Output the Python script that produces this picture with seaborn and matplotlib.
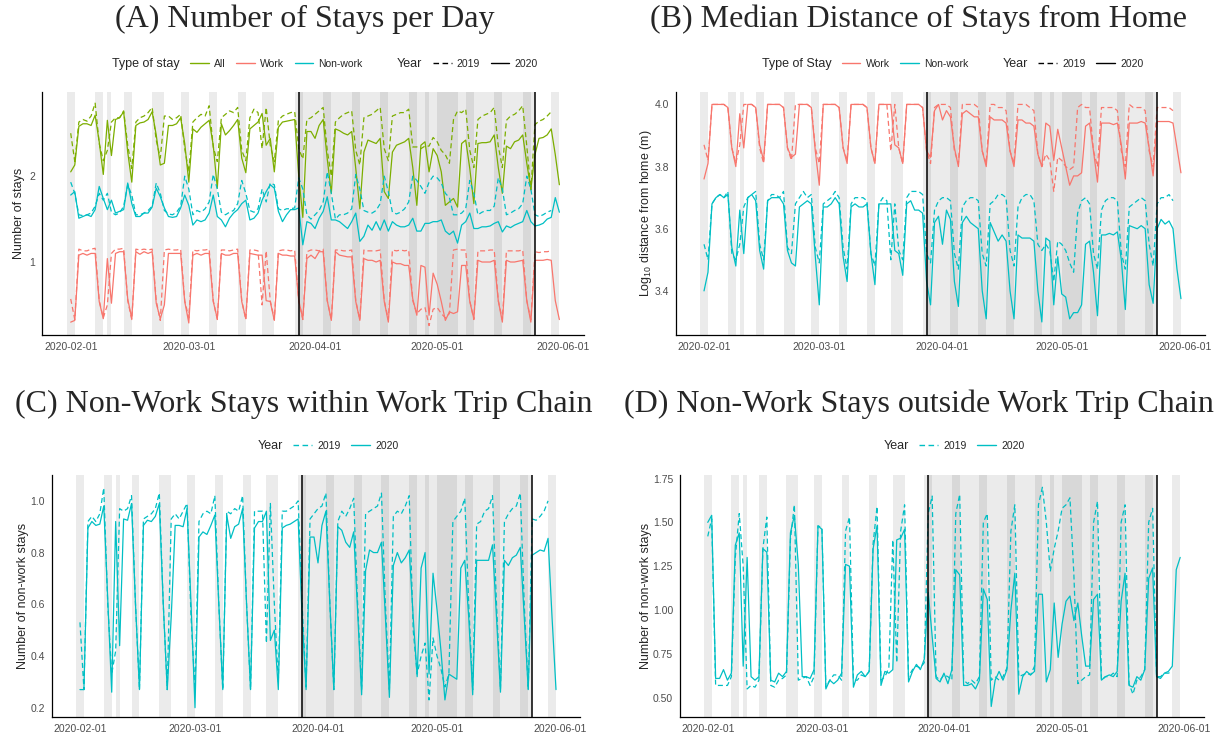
import pandas as pd
import seaborn as sns
import matplotlib.pyplot as plt
import matplotlib.dates as mdates
from matplotlib.lines import Line2D

# 2020 calendar (2019 series are aligned by weekday, so they end a couple of days earlier)
dates = pd.date_range('2020-02-01', '2020-05-31', freq='D')
holidays = pd.to_datetime(['2020-02-11', '2020-02-24', '2020-03-20', '2020-04-29',
                           '2020-05-04', '2020-05-05', '2020-05-06'])
restriction_start = pd.Timestamp('2020-03-28')
restriction_end = pd.Timestamp('2020-05-25')

# (A) number of stays per day, one row per week (Sat..Fri)
all_2020 = [2.05, 2.13, 2.58, 2.61, 2.61, 2.59, 2.71,
            2.40, 2.02, 2.65, 2.24, 2.66, 2.68, 2.75,
            2.28, 1.93, 2.59, 2.62, 2.63, 2.66, 2.75,
            2.48, 2.13, 2.15, 2.59, 2.59, 2.61, 2.68,
            2.38, 1.93, 2.55, 2.51, 2.57, 2.61, 2.65,
            2.36, 1.86, 2.61, 2.48, 2.53, 2.59, 2.66,
            2.21, 2.04, 2.55, 2.59, 2.63, 2.73, 2.36,
            2.44, 2.05, 2.57, 2.63, 2.64, 2.65, 2.66,
            2.00, 1.52, 2.52, 2.52, 2.44, 2.59, 2.66,
            2.20, 1.80, 2.55, 2.53, 2.50, 2.48, 2.52,
            2.09, 1.62, 2.28, 2.42, 2.40, 2.38, 2.44,
            1.82, 1.74, 2.28, 2.36, 2.38, 2.40, 2.44,
            2.10, 1.66, 2.36, 2.40, 2.05, 2.32, 2.24,
            2.05, 1.66, 1.70, 1.74, 1.64, 2.38, 2.42,
            2.09, 1.68, 2.38, 2.39, 2.39, 2.40, 2.48,
            2.10, 1.80, 2.35, 2.32, 2.40, 2.42, 2.48,
            2.15, 1.85, 2.25, 2.44, 2.45, 2.48, 2.55,
            2.25, 1.90]
all_2019 = [2.50, 2.17, 2.63, 2.66, 2.64, 2.70, 2.85,
            2.38, 2.18, 2.30, 2.63, 2.68, 2.68, 2.76,
            2.36, 2.09, 2.63, 2.68, 2.70, 2.74, 2.80,
            2.42, 2.21, 2.70, 2.70, 2.66, 2.68, 2.72,
            2.32, 2.05, 2.63, 2.68, 2.72, 2.70, 2.82,
            2.34, 2.17, 2.68, 2.72, 2.76, 2.74, 2.80,
            2.30, 2.18, 2.68, 2.78, 2.74, 2.32, 2.80,
            2.36, 2.17, 2.65, 2.70, 2.72, 2.74, 2.75,
            2.32, 2.20, 2.66, 2.68, 2.72, 2.76, 2.80,
            2.30, 2.00, 2.63, 2.68, 2.72, 2.74, 2.76,
            2.30, 2.13, 2.68, 2.70, 2.72, 2.76, 2.80,
            2.32, 2.18, 2.70, 2.72, 2.74, 2.74, 2.78,
            2.34, 2.34, 2.32, 2.35, 2.35, 2.45, 2.40,
            2.30, 2.25, 2.15, 2.66, 2.76, 2.74, 2.78,
            2.30, 2.10, 2.66, 2.70, 2.72, 2.74, 2.80,
            2.35, 2.10, 2.65, 2.70, 2.72, 2.76, 2.82,
            2.35, 1.84, 2.60, 2.64, 2.66, 2.70, 2.75]
work_2020 = [0.30, 0.32, 1.08, 1.10, 1.08, 1.10, 1.10,
             0.54, 0.34, 1.04, 0.52, 1.10, 1.12, 1.12,
             0.57, 0.34, 1.12, 1.09, 1.12, 1.10, 1.12,
             0.52, 0.34, 0.50, 1.10, 1.10, 1.10, 1.10,
             0.54, 0.29, 1.08, 1.10, 1.08, 1.10, 1.10,
             0.54, 0.34, 1.10, 1.08, 1.08, 1.10, 1.10,
             0.54, 0.34, 1.10, 1.09, 1.08, 1.08, 0.55,
             0.54, 0.32, 1.10, 1.08, 1.08, 1.07, 1.07,
             0.55, 0.34, 1.04, 1.08, 1.04, 1.12, 1.12,
             0.55, 0.32, 1.12, 1.08, 1.07, 1.06, 1.06,
             0.54, 0.32, 1.04, 1.02, 1.02, 1.00, 1.02,
             0.54, 0.30, 1.00, 0.98, 0.98, 0.96, 0.96,
             0.57, 0.38, 0.96, 0.94, 0.38, 0.87, 0.74,
             0.54, 0.32, 0.42, 0.40, 0.42, 0.96, 0.96,
             0.54, 0.34, 1.02, 1.00, 1.00, 1.00, 1.02,
             0.55, 0.30, 1.02, 1.00, 1.00, 1.01, 1.02,
             0.55, 0.30, 1.02, 1.02, 1.02, 1.03, 1.02,
             0.55, 0.33]
work_2019 = [0.57, 0.33, 1.15, 1.13, 1.13, 1.15, 1.16,
             0.55, 0.35, 0.50, 1.10, 1.15, 1.15, 1.16,
             0.55, 0.33, 1.15, 1.14, 1.15, 1.14, 1.15,
             0.55, 0.32, 1.14, 1.15, 1.14, 1.14, 1.15,
             0.55, 0.35, 1.14, 1.13, 1.14, 1.14, 1.15,
             0.55, 0.33, 1.14, 1.14, 1.13, 1.14, 1.15,
             0.55, 0.33, 1.14, 1.14, 1.13, 0.50, 1.13,
             0.55, 0.33, 1.13, 1.14, 1.14, 1.13, 1.14,
             0.55, 0.33, 1.12, 1.14, 1.14, 1.13, 1.15,
             0.55, 0.33, 1.14, 1.14, 1.13, 1.13, 1.14,
             0.55, 0.33, 1.14, 1.13, 1.13, 1.13, 1.14,
             0.55, 0.33, 1.14, 1.13, 1.14, 1.13, 1.14,
             0.55, 0.40, 0.45, 0.47, 0.26, 0.45, 0.47,
             0.40, 0.35, 0.40, 1.14, 1.15, 1.14, 1.14,
             0.55, 0.33, 1.13, 1.13, 1.13, 1.14, 1.14,
             0.55, 0.33, 1.13, 1.13, 1.13, 1.13, 1.14,
             0.55, 0.33, 1.12, 1.11, 1.12, 1.12, 1.13]
nonwork_2020 = [1.78, 1.82, 1.51, 1.53, 1.55, 1.53, 1.61,
                1.88, 1.74, 1.61, 1.72, 1.57, 1.59, 1.61,
                1.92, 1.68, 1.53, 1.53, 1.57, 1.57, 1.64,
                1.86, 1.76, 1.63, 1.53, 1.52, 1.53, 1.63,
                1.78, 1.66, 1.43, 1.49, 1.47, 1.49, 1.57,
                1.78, 1.53, 1.49, 1.41, 1.51, 1.57, 1.61,
                1.68, 1.72, 1.49, 1.51, 1.57, 1.72, 1.82,
                1.90, 1.86, 1.59, 1.47, 1.55, 1.61, 1.61,
                1.63, 1.20, 1.47, 1.45, 1.39, 1.51, 1.59,
                1.76, 1.49, 1.49, 1.47, 1.43, 1.39, 1.47,
                1.57, 1.24, 1.30, 1.43, 1.37, 1.47, 1.37,
                1.49, 1.36, 1.47, 1.43, 1.41, 1.41, 1.43,
                1.51, 1.36, 1.36, 1.45, 1.45, 1.47, 1.47,
                1.49, 1.36, 1.32, 1.36, 1.22, 1.43, 1.47,
                1.57, 1.39, 1.39, 1.41, 1.41, 1.42, 1.45,
                1.47, 1.35, 1.42, 1.40, 1.43, 1.45, 1.47,
                1.60, 1.47, 1.42, 1.43, 1.45, 1.50, 1.52,
                1.75, 1.58]
nonwork_2019 = [1.93, 1.80, 1.55, 1.54, 1.55, 1.57, 1.65,
                1.80, 1.72, 1.80, 1.58, 1.55, 1.57, 1.65,
                1.90, 1.78, 1.55, 1.55, 1.57, 1.60, 1.65,
                1.92, 1.80, 1.60, 1.56, 1.55, 1.58, 1.65,
                2.00, 1.85, 1.55, 1.60, 1.58, 1.62, 1.70,
                2.02, 1.85, 1.58, 1.55, 1.58, 1.60, 1.68,
                1.95, 1.80, 1.60, 1.58, 1.62, 1.85, 1.70,
                1.92, 1.90, 1.62, 1.60, 1.62, 1.62, 1.63,
                1.98, 1.85, 1.55, 1.50, 1.55, 1.60, 1.70,
                2.05, 1.80, 1.50, 1.55, 1.55, 1.57, 1.62,
                2.02, 1.85, 1.60, 1.58, 1.57, 1.60, 1.68,
                2.00, 1.82, 1.58, 1.56, 1.58, 1.62, 1.70,
                2.00, 1.95, 1.88, 1.80, 1.93, 2.00, 1.98,
                1.92, 1.80, 1.75, 1.55, 1.55, 1.57, 1.62,
                1.95, 1.80, 1.55, 1.58, 1.60, 1.60, 1.65,
                1.98, 1.85, 1.55, 1.57, 1.60, 1.62, 1.68,
                2.00, 1.85, 1.55, 1.53, 1.55, 1.58, 1.60]

# (B) log10 median distance from home
dist_work_2020 = [3.76, 3.81, 4.00, 4.00, 4.00, 4.00, 3.99,
                  3.86, 3.80, 3.97, 3.86, 4.00, 4.00, 3.99,
                  3.87, 3.82, 4.00, 4.00, 4.00, 4.00, 3.99,
                  3.86, 3.83, 3.84, 4.00, 4.00, 4.00, 3.99,
                  3.85, 3.74, 4.00, 4.00, 4.00, 4.00, 3.99,
                  3.86, 3.81, 4.00, 4.00, 4.00, 4.00, 3.99,
                  3.86, 3.81, 4.00, 4.00, 4.00, 4.00, 3.87,
                  3.86, 3.81, 4.00, 4.00, 4.00, 4.00, 3.99,
                  3.85, 3.83, 3.98, 4.00, 3.95, 3.98, 3.96,
                  3.86, 3.80, 3.97, 3.98, 3.97, 3.96, 3.96,
                  3.85, 3.80, 3.96, 3.95, 3.95, 3.95, 3.94,
                  3.85, 3.80, 3.95, 3.95, 3.94, 3.94, 3.93,
                  3.84, 3.80, 3.94, 3.93, 3.82, 3.92, 3.86,
                  3.80, 3.74, 3.77, 3.77, 3.78, 3.93, 3.94,
                  3.85, 3.75, 3.94, 3.94, 3.94, 3.935, 3.94,
                  3.87, 3.76, 3.94, 3.94, 3.94, 3.945, 3.94,
                  3.86, 3.77, 3.945, 3.945, 3.945, 3.945, 3.94,
                  3.86, 3.78]
dist_work_2019 = [3.87, 3.82, 4.00, 4.00, 4.00, 4.00, 3.99,
                  3.86, 3.81, 3.87, 4.00, 4.00, 4.00, 3.99,
                  3.86, 3.81, 4.00, 4.00, 4.00, 4.00, 3.99,
                  3.86, 3.82, 4.00, 4.00, 4.00, 4.00, 3.99,
                  3.86, 3.81, 4.00, 4.00, 4.00, 4.00, 3.99,
                  3.86, 3.82, 4.00, 4.00, 4.00, 4.00, 3.99,
                  3.86, 3.81, 4.00, 4.00, 4.00, 3.85, 4.00,
                  3.86, 3.81, 4.00, 4.00, 4.00, 4.00, 3.99,
                  3.85, 3.81, 3.99, 4.00, 4.00, 4.00, 3.99,
                  3.85, 3.81, 4.00, 4.00, 4.00, 4.00, 3.99,
                  3.85, 3.81, 4.00, 4.00, 3.99, 3.99, 3.98,
                  3.85, 3.81, 4.00, 4.00, 4.00, 3.99, 3.98,
                  3.84, 3.80, 3.84, 3.82, 3.72, 3.83, 3.82,
                  3.80, 3.79, 3.80, 3.99, 4.00, 3.99, 3.99,
                  3.85, 3.80, 3.99, 3.99, 3.99, 3.99, 3.98,
                  3.85, 3.80, 4.00, 3.99, 3.99, 3.99, 3.98,
                  3.85, 3.80, 3.99, 3.99, 3.99, 3.99, 3.98]
dist_nonwork_2020 = [3.40, 3.46, 3.68, 3.70, 3.71, 3.70, 3.71,
                     3.54, 3.48, 3.66, 3.52, 3.70, 3.71, 3.69,
                     3.53, 3.47, 3.69, 3.70, 3.70, 3.70, 3.68,
                     3.53, 3.49, 3.48, 3.67, 3.68, 3.69, 3.68,
                     3.51, 3.355, 3.67, 3.67, 3.68, 3.70, 3.68,
                     3.51, 3.43, 3.67, 3.68, 3.67, 3.67, 3.68,
                     3.52, 3.42, 3.68, 3.68, 3.68, 3.68, 3.53,
                     3.52, 3.45, 3.68, 3.69, 3.66, 3.66, 3.65,
                     3.43, 3.355, 3.62, 3.64, 3.55, 3.66, 3.63,
                     3.43, 3.35, 3.62, 3.64, 3.62, 3.61, 3.60,
                     3.40, 3.31, 3.62, 3.59, 3.56, 3.58, 3.56,
                     3.40, 3.31, 3.58, 3.57, 3.57, 3.57, 3.56,
                     3.40, 3.30, 3.57, 3.56, 3.355, 3.51, 3.39,
                     3.38, 3.31, 3.33, 3.33, 3.355, 3.55, 3.56,
                     3.46, 3.32, 3.58, 3.58, 3.585, 3.58, 3.59,
                     3.50, 3.34, 3.61, 3.605, 3.60, 3.61, 3.60,
                     3.42, 3.36, 3.60, 3.63, 3.615, 3.625, 3.60,
                     3.47, 3.375]
dist_nonwork_2019 = [3.55, 3.50, 3.68, 3.70, 3.71, 3.70, 3.72,
                     3.52, 3.50, 3.55, 3.67, 3.70, 3.71, 3.72,
                     3.55, 3.50, 3.69, 3.71, 3.71, 3.70, 3.72,
                     3.54, 3.52, 3.68, 3.70, 3.72, 3.70, 3.71,
                     3.54, 3.49, 3.68, 3.69, 3.70, 3.72, 3.70,
                     3.54, 3.47, 3.68, 3.70, 3.70, 3.70, 3.69,
                     3.52, 3.48, 3.68, 3.70, 3.69, 3.50, 3.68,
                     3.53, 3.50, 3.70, 3.72, 3.72, 3.72, 3.71,
                     3.52, 3.49, 3.66, 3.69, 3.70, 3.70, 3.69,
                     3.52, 3.47, 3.67, 3.69, 3.70, 3.70, 3.69,
                     3.52, 3.48, 3.68, 3.69, 3.71, 3.71, 3.70,
                     3.53, 3.48, 3.67, 3.70, 3.71, 3.71, 3.69,
                     3.55, 3.53, 3.55, 3.53, 3.43, 3.56, 3.55,
                     3.53, 3.49, 3.46, 3.65, 3.69, 3.70, 3.68,
                     3.52, 3.47, 3.66, 3.69, 3.70, 3.70, 3.69,
                     3.52, 3.47, 3.67, 3.68, 3.69, 3.70, 3.69,
                     3.55, 3.48, 3.68, 3.70, 3.70, 3.71, 3.69]

# (C) non-work stays within work trip chain
within_2020 = [0.27, 0.27, 0.895, 0.92, 0.905, 0.91, 0.98,
               0.62, 0.26, 0.92, 0.44, 0.93, 0.925, 0.99,
               0.60, 0.27, 0.905, 0.925, 0.92, 0.94, 0.99,
               0.60, 0.27, 0.55, 0.905, 0.905, 0.90, 0.97,
               0.60, 0.20, 0.86, 0.88, 0.87, 0.905, 0.945,
               0.60, 0.27, 0.945, 0.855, 0.90, 0.91, 0.97,
               0.60, 0.27, 0.895, 0.92, 0.92, 0.96, 0.46,
               0.50, 0.27, 0.895, 0.905, 0.91, 0.92, 0.93,
               0.55, 0.27, 0.86, 0.86, 0.76, 0.905, 0.96,
               0.60, 0.27, 0.90, 0.886, 0.84, 0.82, 0.88,
               0.57, 0.25, 0.73, 0.81, 0.80, 0.80, 0.84,
               0.55, 0.24, 0.75, 0.80, 0.76, 0.78, 0.81,
               0.55, 0.32, 0.74, 0.80, 0.33, 0.72, 0.58,
               0.42, 0.23, 0.33, 0.32, 0.31, 0.74, 0.77,
               0.55, 0.25, 0.77, 0.77, 0.77, 0.77, 0.83,
               0.55, 0.26, 0.77, 0.75, 0.78, 0.79, 0.82,
               0.55, 0.27, 0.79, 0.80, 0.81, 0.805, 0.855,
               0.55, 0.27]
within_2019 = [0.53, 0.27, 0.92, 0.94, 0.92, 0.95, 1.05,
               0.60, 0.33, 0.42, 0.97, 0.96, 0.97, 1.02,
               0.60, 0.27, 0.93, 0.94, 0.95, 0.97, 1.03,
               0.60, 0.27, 0.93, 0.95, 0.93, 0.96, 0.99,
               0.55, 0.27, 0.92, 0.95, 0.96, 0.95, 1.02,
               0.60, 0.27, 0.96, 0.95, 0.97, 0.96, 1.02,
               0.60, 0.27, 0.96, 0.96, 0.96, 0.45, 0.99,
               0.60, 0.30, 0.96, 0.96, 0.97, 0.98, 1.00,
               0.60, 0.28, 0.93, 0.95, 0.97, 0.98, 1.03,
               0.60, 0.27, 0.92, 0.96, 0.94, 0.97, 1.01,
               0.60, 0.27, 0.95, 0.96, 0.97, 0.98, 1.03,
               0.60, 0.27, 0.94, 0.96, 0.95, 0.98, 1.02,
               0.50, 0.33, 0.40, 0.45, 0.23, 0.47, 0.40,
               0.35, 0.28, 0.33, 0.92, 0.94, 0.96, 1.01,
               0.60, 0.27, 0.91, 0.92, 0.96, 0.97, 1.02,
               0.60, 0.27, 0.92, 0.95, 0.97, 0.98, 1.03,
               0.60, 0.27, 0.93, 0.925, 0.94, 0.96, 1.00]

# (D) non-work stays outside work trip chain
outside_2020 = [1.50, 1.54, 0.61, 0.61, 0.66, 0.60, 0.64,
                1.37, 1.44, 0.68, 1.30, 0.62, 0.60, 0.62,
                1.35, 1.33, 0.60, 0.59, 0.64, 0.62, 0.65,
                1.44, 1.54, 1.26, 0.62, 0.62, 0.61, 0.66,
                1.48, 1.46, 0.55, 0.60, 0.58, 0.60, 0.64,
                1.26, 1.25, 0.56, 0.63, 0.65, 0.62, 0.65,
                1.35, 1.48, 0.57, 0.65, 0.64, 0.66, 1.40,
                1.41, 1.46, 0.59, 0.65, 0.69, 0.66, 0.72,
                1.10, 0.85, 0.61, 0.59, 0.64, 0.58, 0.66,
                1.23, 1.20, 0.57, 0.57, 0.58, 0.55, 0.60,
                1.12, 1.06, 0.45, 0.60, 0.65, 0.60, 0.66,
                1.00, 1.21, 0.52, 0.62, 0.65, 0.63, 0.65,
                1.09, 1.09, 0.59, 0.66, 1.04, 0.73, 0.92,
                1.05, 1.08, 0.94, 1.04, 0.85, 0.68, 0.68,
                1.06, 1.09, 0.60, 0.62, 0.63, 0.62, 0.65,
                1.05, 1.21, 0.57, 0.56, 0.62, 0.60, 0.66,
                1.18, 1.24, 0.62, 0.61, 0.64, 0.65, 0.68,
                1.23, 1.30]
outside_2019 = [1.42, 1.52, 0.57, 0.57, 0.57, 0.57, 0.62,
                1.30, 1.55, 1.25, 0.55, 0.57, 0.56, 0.60,
                1.35, 1.53, 0.57, 0.56, 0.60, 0.61, 0.63,
                1.40, 1.60, 0.60, 0.61, 0.62, 0.57, 0.62,
                1.48, 1.47, 0.56, 0.60, 0.63, 0.63, 0.60,
                1.45, 1.53, 0.60, 0.60, 0.63, 0.62, 0.65,
                1.38, 1.59, 0.60, 0.62, 0.67, 1.40, 0.70,
                1.45, 1.60, 0.62, 0.66, 0.68, 0.67, 0.70,
                1.55, 1.65, 0.62, 0.60, 0.63, 0.62, 0.60,
                1.55, 1.66, 0.60, 0.58, 0.60, 0.58, 0.62,
                1.50, 1.55, 0.60, 0.62, 0.60, 0.62, 0.67,
                1.45, 1.60, 0.62, 0.63, 0.64, 0.63, 0.68,
                1.60, 1.70, 1.50, 1.22, 1.35, 1.45, 1.58,
                1.60, 1.64, 1.20, 0.58, 0.60, 0.62, 0.63,
                1.50, 1.62, 0.60, 0.62, 0.62, 0.64, 0.62,
                1.50, 1.60, 0.58, 0.52, 0.60, 0.62, 0.66,
                1.50, 1.58, 0.62, 0.62, 0.64, 0.64, 0.65]

colors = {'All': '#7CAE00', 'Work': '#F8766D', 'Non-work': '#00BFC4'}
teal = '#00BFC4'
year_dashes = {'2019': (4, 2.5), '2020': ''}
one_day = pd.Timedelta(days=1)


def make_frame(values, kind, year):
    return pd.DataFrame({'date': dates[:len(values)], 'value': values, 'type': kind, 'year': year})


sns.set_theme(style='white')
plt.rcParams['font.family'] = ['Liberation Sans', 'DejaVu Sans']

W, H = 1228, 736
fig = plt.figure(figsize=(W / 100, H / 100), dpi=100)


def add_axes(left, right, top, bottom):
    return fig.add_axes([left / W, 1 - bottom / H, (right - left) / W, (bottom - top) / H])


# weekends and holidays, each drawn as the band [day-1, day] like the original
off_days = [d for d in dates if d.weekday() >= 5 or d in holidays]


def shade(ax):
    bands = []
    for d in off_days:
        if bands and d - bands[-1][1] == one_day:
            bands[-1][1] = d
        else:
            bands.append([d, d])
    for start, end in bands:
        ax.axvspan(start - one_day, end, color='black', alpha=0.08, lw=0, zorder=0)
    ax.axvspan(restriction_start, restriction_end, color='black', alpha=0.08, lw=0, zorder=0)
    for x in (restriction_start, restriction_end):
        ax.axvline(x, color='black', lw=1.1, zorder=3)


def style_axes(ax, ylim, yticks, fmt, ylabel, label_x):
    ax.set_xlim(dates[0] - pd.Timedelta(days=7.05), dates[0] + pd.Timedelta(days=126.05))
    ax.set_ylim(*ylim)
    ax.set_yticks(yticks)
    ax.set_yticklabels([fmt.format(v) for v in yticks])
    ax.xaxis.set_major_locator(mdates.MonthLocator())
    ax.xaxis.set_major_formatter(mdates.DateFormatter('%Y-%m-%d'))
    ax.set_xlabel('')
    ax.set_ylabel(ylabel, fontsize=9)
    ax.yaxis.set_label_coords(label_x, 0.5)
    for s in ['top', 'right']:
        ax.spines[s].set_visible(False)
    for s in ['left', 'bottom']:
        ax.spines[s].set_color('black')
        ax.spines[s].set_linewidth(0.9)
    ax.tick_params(length=3, width=0.8, color='#333333', labelsize=7.5,
                   labelcolor='#4D4D4D', pad=2)


def add_legend(ax, title, kinds, year_color, y):
    handles, labels = [], []
    if title:
        handles.append(Line2D([], [], color='none'))
        labels.append(title)
        for k in kinds:
            handles.append(Line2D([], [], color=colors[k], lw=1))
            labels.append(k)
    handles.append(Line2D([], [], color='none'))
    labels.append('Year')
    handles.append(Line2D([], [], color=year_color, lw=1, linestyle=(0, (4, 2.5))))
    labels.append('2019')
    handles.append(Line2D([], [], color=year_color, lw=1))
    labels.append('2020')
    leg = ax.legend(handles, labels, ncol=len(handles), loc='center', bbox_to_anchor=(0.5, y),
                    frameon=False, fontsize=7.5, handlelength=1.8, handletextpad=0.5,
                    columnspacing=1.0)
    for t in leg.get_texts():
        if t.get_text() in (title, 'Year'):
            t.set_fontsize(9)


title_font = dict(fontsize=23, family=['Liberation Serif', 'DejaVu Serif'], ha='center', va='center')
line_w = 0.9

# (A)
ax_a = add_axes(42, 584, 92, 335)
shade(ax_a)
df_a = pd.concat([make_frame(all_2019, 'All', '2019'), make_frame(all_2020, 'All', '2020'),
                  make_frame(work_2019, 'Work', '2019'), make_frame(work_2020, 'Work', '2020'),
                  make_frame(nonwork_2019, 'Non-work', '2019'), make_frame(nonwork_2020, 'Non-work', '2020')])
sns.lineplot(data=df_a, x='date', y='value', hue='type', style='year', palette=colors,
             dashes=year_dashes, estimator=None, linewidth=line_w, legend=False, ax=ax_a)
style_axes(ax_a, (0.15, 2.98), [1, 2], '{:.0f}', 'Number of stays', -0.031)
add_legend(ax_a, 'Type of stay', ['All', 'Work', 'Non-work'], 'black', 1 + 28 / 243)
fig.text(305 / W, 1 - 19 / H, '(A) Number of Stays per Day', **title_font)

# (B)
ax_b = add_axes(676, 1205, 92, 335)
shade(ax_b)
df_b = pd.concat([make_frame(dist_work_2019, 'Work', '2019'), make_frame(dist_work_2020, 'Work', '2020'),
                  make_frame(dist_nonwork_2019, 'Non-work', '2019'),
                  make_frame(dist_nonwork_2020, 'Non-work', '2020')])
sns.lineplot(data=df_b, x='date', y='value', hue='type', style='year', palette=colors,
             dashes=year_dashes, estimator=None, linewidth=line_w, legend=False, ax=ax_b)
style_axes(ax_b, (3.258, 4.04), [3.4, 3.6, 3.8, 4.0], '{:.1f}',
           r'Log$_{\mathregular{10}}$ distance from home (m)', -0.041)
add_legend(ax_b, 'Type of Stay', ['Work', 'Non-work'], 'black', 1 + 28 / 243)
fig.text(919 / W, 1 - 19 / H, '(B) Median Distance of Stays from Home', **title_font)

# (C)
ax_c = add_axes(52, 580, 475, 717)
shade(ax_c)
df_c = pd.concat([make_frame(within_2019, 'Non-work', '2019'), make_frame(within_2020, 'Non-work', '2020')])
sns.lineplot(data=df_c, x='date', y='value', style='year', color=teal,
             dashes=year_dashes, estimator=None, linewidth=line_w, legend=False, ax=ax_c)
style_axes(ax_c, (0.164, 1.10), [0.2, 0.4, 0.6, 0.8, 1.0], '{:.1f}', 'Number of non-work stays', -0.044)
add_legend(ax_c, None, [], teal, 1 + 29 / 242)
fig.text(304 / W, 1 - 404 / H, '(C) Non-Work Stays within Work Trip Chain', **title_font)

# (D)
ax_d = add_axes(680, 1204, 475, 717)
shade(ax_d)
df_d = pd.concat([make_frame(outside_2019, 'Non-work', '2019'), make_frame(outside_2020, 'Non-work', '2020')])
sns.lineplot(data=df_d, x='date', y='value', style='year', color=teal,
             dashes=year_dashes, estimator=None, linewidth=line_w, legend=False, ax=ax_d)
style_axes(ax_d, (0.39, 1.77), [0.5, 0.75, 1.0, 1.25, 1.5, 1.75], '{:.2f}',
           'Number of non-work stays', -0.053)
add_legend(ax_d, None, [], teal, 1 + 29 / 242)
fig.text(919 / W, 1 - 404 / H, '(D) Non-Work Stays outside Work Trip Chain', **title_font)

fig.savefig('out.png', dpi=100, facecolor='white')
